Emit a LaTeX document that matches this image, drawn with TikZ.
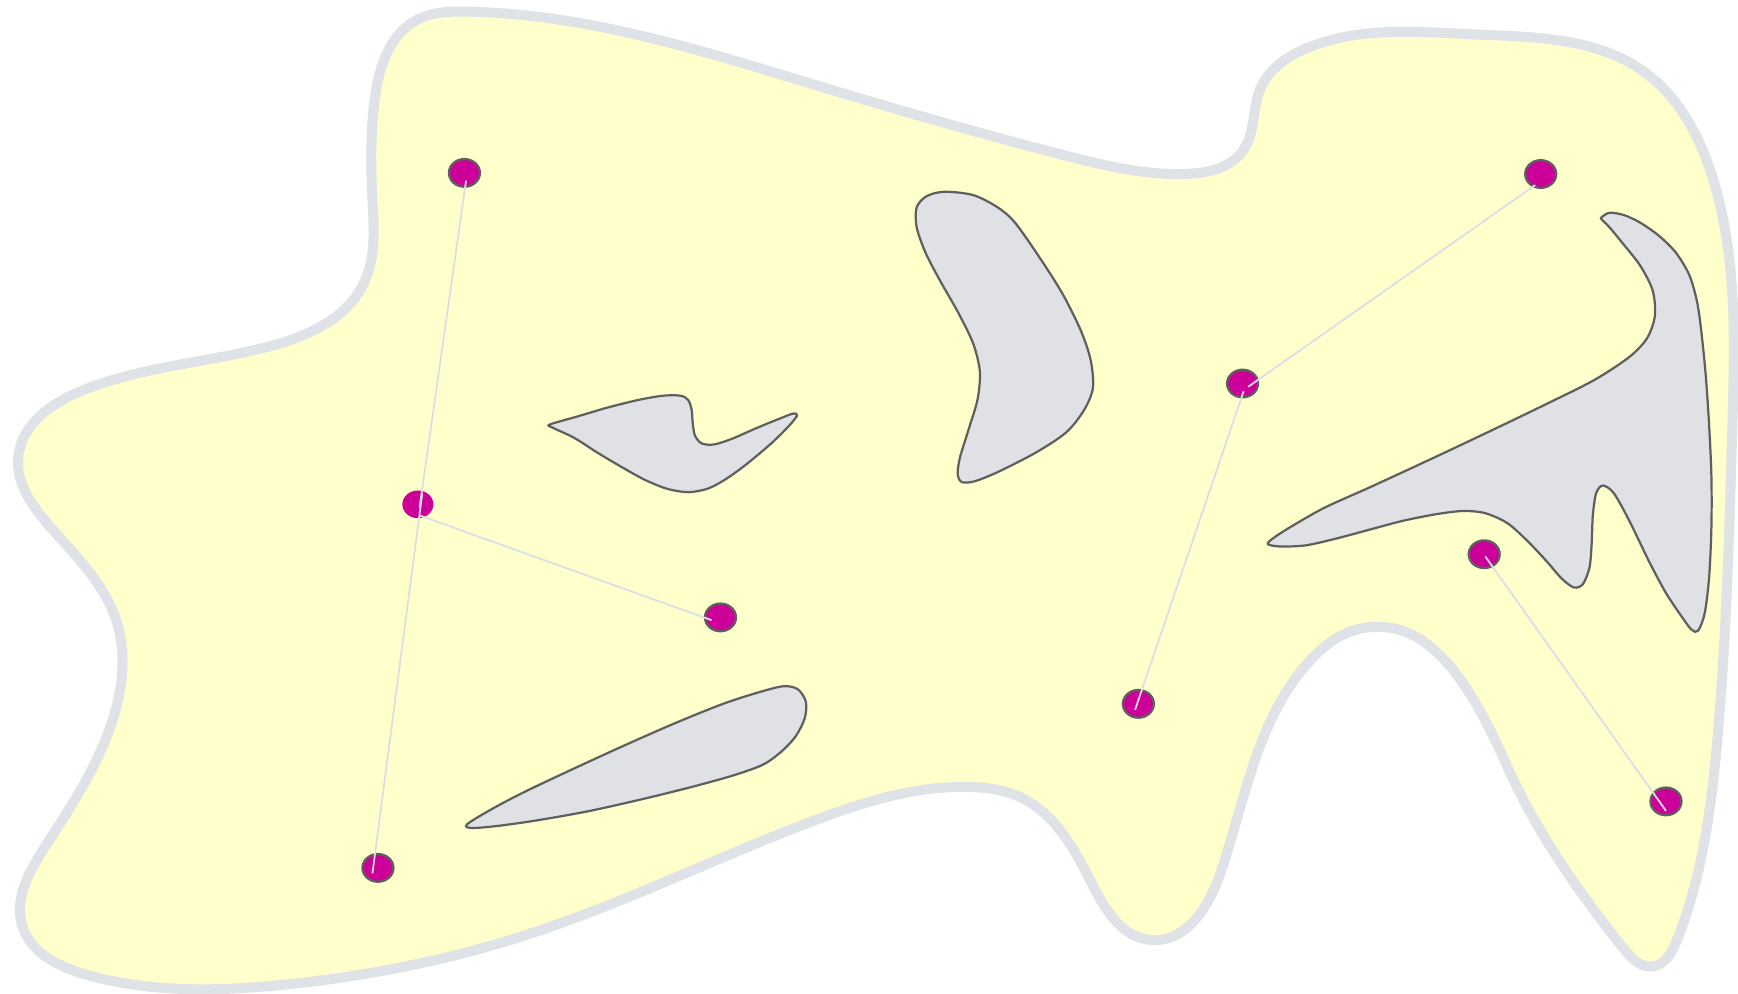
\documentclass[tikz,border=0pt]{standalone}
\usepackage{xcolor}
\usetikzlibrary{shapes.geometric,hobby}

\definecolor{fieldyellow}{HTML}{FFFFCC}
\definecolor{fieldedge}{HTML}{DFE2E6}
\definecolor{rockfill}{HTML}{DFE1E4}
\definecolor{rockedge}{HTML}{5F5F5F}
\definecolor{dotmagenta}{HTML}{CC0099}
\definecolor{linkgray}{HTML}{DCDEE3}

\begin{document}
\begin{tikzpicture}[
  x=0.5pt, y=-0.5pt,
  outline/.style={draw=fieldedge, line width=4.5pt, fill=fieldyellow, use Hobby shortcut, closed=true},
  obstacle/.style={draw=rockedge, line width=1pt, fill=rockfill},
  waypoint/.style={ellipse, draw=rockedge, line width=1pt, fill=dotmagenta, inner sep=0pt, minimum width=14pt, minimum height=12.5pt},
  link/.style={draw=linkgray, line width=0.8pt}
]
\useasboundingbox (0,0) rectangle (1568,896);

% free space
\draw[outline] (421,10.5) .. (530,22) .. (740,78) .. (960,140)
  .. (1068,157) .. (1122,135) .. (1137,80) .. (1180,43)
  .. (1330,31) .. (1485,66) .. (1545,160)
  .. (1563,380) .. (1550,660) .. (1513,848) .. (1490,872) .. (1465,856)
  .. (1360,692) .. (1228,567) .. (1180,598)
  .. (1102,785) .. (1038,848) .. (985,797)
  .. (920,719) .. (875,710) .. (730,742) .. (470,845)
  .. (260,888) .. (80,880) .. (20,835) .. (40,765)
  .. (103,645) .. (105,560) .. (45,475) .. (16.5,412)
  .. (75,352) .. (241,313) .. (328,256) .. (336,180) .. (338,90)
  .. (376,18);

% obstacles
\draw[obstacle] plot[smooth cycle] coordinates {
  (496,383) (520,376) (547,368) (575,361) (598,357) (614,357) (621,361)
  (624,370) (625,382) (627,393) (633,400) (644,401) (660,396) (683,386)
  (705,377) (716,373) (719,375) (712,384) (698,398) (683,411) (668,423)
  (652,434) (638,441) (621,444) (602,441) (582,433) (562,422) (540,409)
  (518,395) (499,386)};
\draw[obstacle] plot[smooth cycle] coordinates {
  (827,187) (836,177) (852,173) (878,176) (900,187) (915,200) (935,228)
  (958,264) (975,298) (984,325) (986,350) (978,370) (962,390) (935,408)
  (902,425) (880,434) (868,435) (864,428) (866,413) (874,387) (882,360)
  (884,335) (878,310) (865,283) (848,253) (835,228) (827,205)};
\draw[obstacle] plot[smooth cycle] coordinates {
  (421,744) (440,732) (470,716) (510,697) (560,674) (610,652) (655,634)
  (690,623) (708,619) (720,622) (727,633) (726,648) (718,664) (705,678)
  (688,690) (660,700) (620,711) (575,722) (530,732) (485,740) (450,745)
  (426,747)};
\draw[obstacle] plot[smooth cycle] coordinates {
  (1445,196) (1452,192) (1465,194) (1480,201) (1497,213) (1512,228)
  (1524,248) (1531,272) (1535,300) (1539,340) (1542,385) (1544,430)
  (1544,475) (1542,520) (1538,553) (1532,569) (1526,568) (1517,556)
  (1503,535) (1488,507) (1470,470) (1456,445) (1446,438) (1440,445)
  (1437,465) (1436,490) (1434,512) (1428,527) (1420,530) (1409,522)
  (1395,506) (1378,488) (1360,472) (1340,463) (1320,461) (1295,464)
  (1265,470) (1235,478) (1205,486) (1178,492) (1155,493) (1144,491)
  (1148,486) (1165,475) (1195,458) (1235,440) (1287,416) (1340,391)
  (1392,366) (1438,343) (1470,322) (1486,305) (1493,285) (1491,262)
  (1480,240) (1466,222) (1452,205) (1445,198)};

% samples
\node[waypoint] (w1) at (419,156) {};
\node[waypoint, draw=none] (w2) at (377,455) {};
\node[waypoint] (w3) at (650,557) {};
\node[waypoint] (w4) at (341,783) {};
\node[waypoint] (w5) at (1390,157) {};
\node[waypoint] (w6) at (1121,346) {};
\node[waypoint] (w7) at (1027,635) {};
\node[waypoint] (w8) at (1339,500) {};
\node[waypoint] (w9) at (1503,723) {};

% edges
\draw[link] ([shift={(1.5,7)}]w1.center) -- ([shift={(1.5,3)}]w2.center);
\draw[link] ([shift={(4,-10)}]w2.center) -- ([shift={(-5,5)}]w4.center);
\draw[link] ([shift={(1.5,10)}]w2.center) -- ([shift={(-8,2.5)}]w3.center);
\draw[link] ([shift={(-5,10)}]w5.center) -- ([shift={(5,3)}]w6.center);
\draw[link] ([shift={(1,7)}]w6.center) -- ([shift={(-3,5.5)}]w7.center);
\draw[link] ([shift={(1,2)}]w8.center) -- ([shift={(0,8.5)}]w9.center);

\end{tikzpicture}
\end{document}
